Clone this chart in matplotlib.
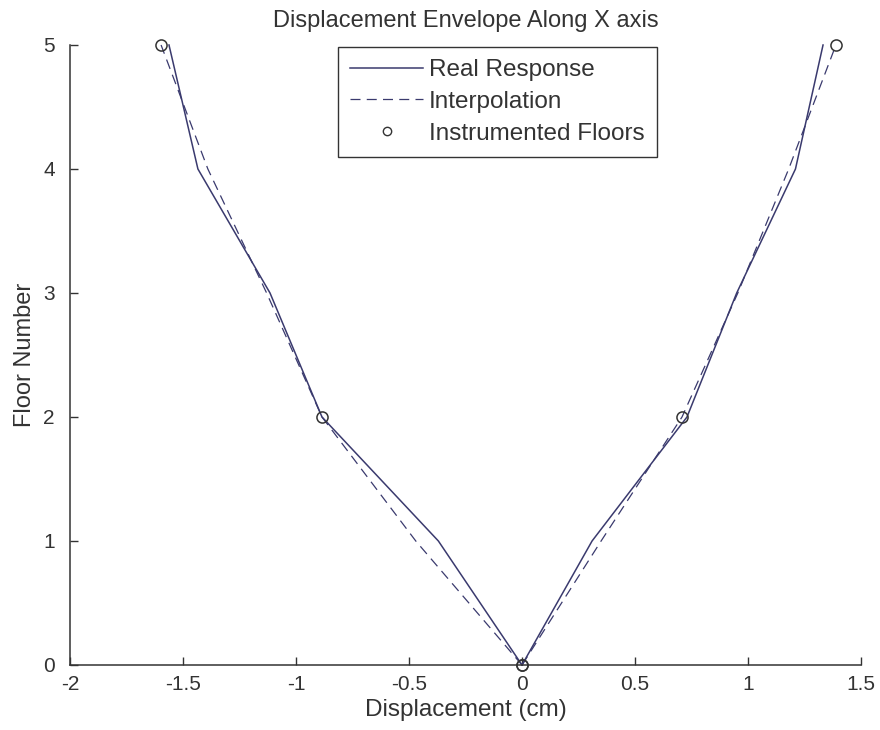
import matplotlib
matplotlib.use("Agg")
import matplotlib.pyplot as plt
from matplotlib.lines import Line2D

plt.rcParams['font.family'] = ['Liberation Sans', 'DejaVu Sans']

floors = [0, 1, 2, 3, 4, 5]
real_left = [0.0, -0.37, -0.885, -1.115, -1.434, -1.562]
real_right = [0.0, 0.31, 0.73, 0.95, 1.21, 1.332]
interp_left = [0.0, -0.47, -0.885, -1.13, -1.39, -1.597]
interp_right = [0.0, 0.35, 0.708, 0.955, 1.18, 1.389]
inst_floors = [0, 2, 5]
inst_left = [0.0, -0.885, -1.597]
inst_right = [0.0, 0.708, 1.389]

xticks = [-2, -1.5, -1, -0.5, 0, 0.5, 1, 1.5]
xticklabels = ['-2', '-1.5', '-1', '-0.5', '0', '0.5', '1', '1.5']
yticks = [0, 1, 2, 3, 4, 5]

line_col = '#3a3a6e'
txt_col = '#333333'

fig = plt.figure(figsize=(8.8, 7.3), dpi=100)
ax = fig.add_axes([70/880, 65/730, (861-70)/880, (665-45)/730])

ax.plot(real_left, floors, '-', color=line_col, lw=1.1, clip_on=False)
ax.plot(real_right, floors, '-', color=line_col, lw=1.1, clip_on=False)
ax.plot(interp_left, floors, '--', color=line_col, lw=0.9, dashes=(8, 5), clip_on=False)
ax.plot(interp_right, floors, '--', color=line_col, lw=0.9, dashes=(8, 5), clip_on=False)
ax.plot(inst_left, inst_floors, 'o', mfc='none', mec='#333333', ms=8, mew=1.1, clip_on=False, zorder=5)
ax.plot(inst_right, inst_floors, 'o', mfc='none', mec='#333333', ms=8, mew=1.1, clip_on=False, zorder=5)

ax.set_xlim(-2, 1.5)
ax.set_ylim(0, 5)
ax.set_xticks(xticks)
ax.set_xticklabels(xticklabels)
ax.set_yticks(yticks)
for s in ['top', 'right']:
    ax.spines[s].set_visible(False)
for s in ['left', 'bottom']:
    ax.spines[s].set_color('#333333')
    ax.spines[s].set_linewidth(1.1)
ax.tick_params(direction='in', length=6, width=1, colors='#333333',
               labelsize=15, labelcolor=txt_col)
ax.tick_params(axis='x', pad=7)
ax.tick_params(axis='y', pad=11)

ax.set_title('Displacement Envelope Along X axis', fontsize=17, color=txt_col, pad=13)
ax.set_xlabel('Displacement (cm)', fontsize=17.5, color=txt_col, labelpad=4)
ax.set_ylabel('Floor Number', fontsize=17, color=txt_col, labelpad=5)

handles = [
    Line2D([], [], color=line_col, lw=1.1, ls='-'),
    Line2D([], [], color=line_col, lw=0.9, ls='--', dashes=(8, 5)),
    Line2D([], [], color='#333333', marker='o', ls='none', mfc='none', ms=6, mew=1.0),
]
leg = ax.legend(handles, ['Real Response', 'Interpolation', 'Instrumented Floors'],
                loc='upper left', bbox_to_anchor=(338/880, 1 - 47/730),
                bbox_transform=fig.transFigure, fontsize=17.5, frameon=True,
                fancybox=False, framealpha=1, edgecolor='#333333',
                handlelength=3.0, handletextpad=0.25, borderpad=0.5,
                labelspacing=0.4, borderaxespad=0)
leg.get_frame().set_linewidth(1.0)
for t in leg.get_texts():
    t.set_color(txt_col)

fig.savefig('out.png', dpi=100, facecolor='white')
